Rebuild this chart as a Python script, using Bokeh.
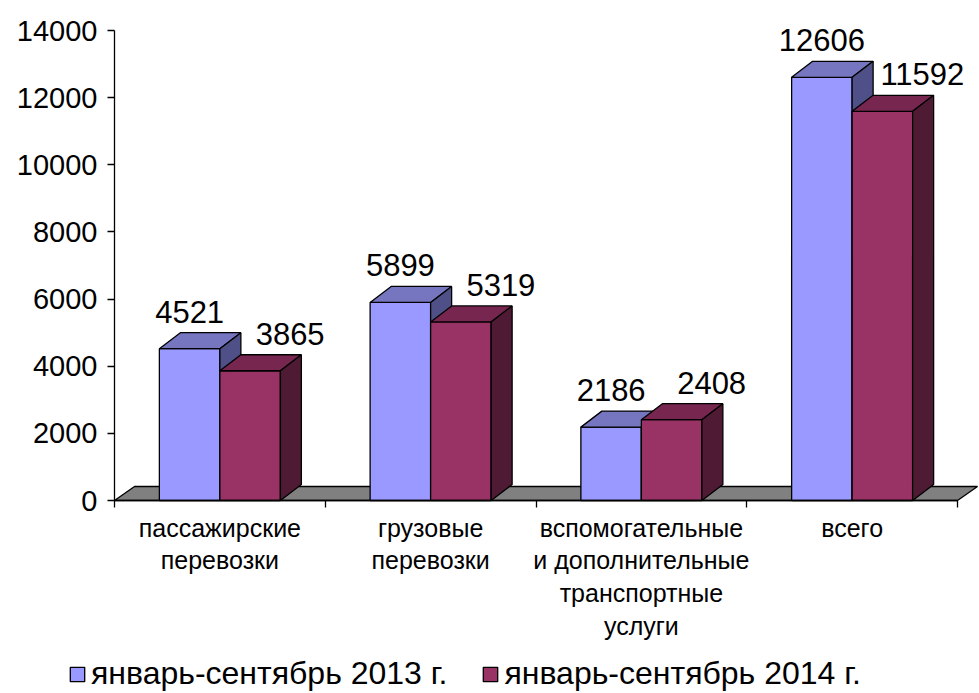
from bokeh.plotting import figure
from bokeh.models import Range1d, LinearAxis, FixedTicker, Legend, LegendItem, ColumnDataSource
from bokeh.core.properties import value
from bokeh.embed import file_html
from bokeh.resources import INLINE

# ---- data ----
categories = [
    "пассажирские\nперевозки",
    "грузовые\nперевозки",
    "вспомогательные\nи дополнительные\nтранспортные\nуслуги",
    "всего",
]
series_names = ["январь-сентябрь 2013 г.", "январь-сентябрь 2014 г."]
values_2013 = [4521, 5899, 2186, 12606]
values_2014 = [3865, 5319, 2408, 11592]
y_ticks = [0, 2000, 4000, 6000, 8000, 10000, 12000, 14000]

# ---- style / layout ----
FONT = "Liberation Sans"
W, H = 978, 692
AXIS_X_PX = 114               # pixel column of the value axis
ZERO_PX = 500                 # pixel row of the zero line
PX_X = 210.75                 # pixels per category
Y_MAX = 14000
PX_Y = 470.0 / Y_MAX          # pixels per unit
x_start = -0.5 - AXIS_X_PX / PX_X
x_end = x_start + W / PX_X
y_end = ZERO_PX / PX_Y
y_start = -(H - ZERO_PX) / PX_Y

BW = 60.5 / PX_X                 # bar width
DX, DY = 21 / PX_X, 16 / PX_Y    # bar depth
FDX, FDY = 20 / PX_X, 14 / PX_Y  # floor depth

colors = {
    0: dict(front="#9999FF", top="#7676C0", side="#505088"),
    1: dict(front="#993366", top="#76264F", side="#4E1A34"),
}
label_dx = {0: 0, 1: 40}

p = figure(width=W, height=H, x_range=Range1d(x_start, x_end), y_range=Range1d(y_start, y_end),
           output_backend="svg", toolbar_location=None,
           x_axis_location=None, y_axis_location=None,
           min_border_left=0, min_border_right=0, min_border_top=0, min_border_bottom=0)
p.outline_line_color = None
p.xgrid.visible = False
p.ygrid.visible = False
p.background_fill_color = "white"
p.border_fill_color = "white"

n = len(categories)
centers = list(range(n))
fx0, fx1 = -0.5, n - 0.5

# y axis, drawn at the left edge of the category area
yaxis = LinearAxis(ticker=FixedTicker(ticks=y_ticks), bounds=(0, Y_MAX), fixed_location=fx0)
yaxis.major_tick_out = 7
yaxis.major_tick_in = 0
yaxis.minor_tick_out = 0
yaxis.minor_tick_in = 0
yaxis.major_label_standoff = 10
yaxis.major_label_text_font = FONT
yaxis.major_label_text_font_size = "29px"
yaxis.major_label_text_color = "black"
yaxis.axis_line_color = "black"
yaxis.axis_line_width = 1.3
yaxis.major_tick_line_color = "black"
yaxis.major_tick_line_width = 1.3
p.add_layout(yaxis, "left")

# x axis: tick marks at category boundaries, drawn at y = 0
xaxis = LinearAxis(ticker=FixedTicker(ticks=[c - 0.5 for c in centers] + [n - 0.5]),
                   bounds=(fx0, fx1), fixed_location=0)
xaxis.major_label_overrides = {c - 0.5: "" for c in centers + [n]}
xaxis.major_label_text_font_size = "1px"
xaxis.major_label_standoff = 0
xaxis.major_tick_out = 7
xaxis.major_tick_in = 0
xaxis.minor_tick_out = 0
xaxis.minor_tick_in = 0
xaxis.major_tick_line_color = "black"
xaxis.major_tick_line_width = 1.3
xaxis.axis_line_color = "black"
xaxis.axis_line_width = 1.3
p.add_layout(xaxis, "below")

# floor
p.patch([fx0, fx1, fx1 + FDX, fx0 + FDX], [0, 0, FDY, FDY],
        fill_color="#808080", line_color="black", line_width=1.3)

front_renderers = []
for s, vals in enumerate([values_2013, values_2014]):
    x0 = [c - BW if s == 0 else c for c in centers]
    front = p.quad(left=x0, right=[a + BW for a in x0], bottom=[0] * n, top=vals,
                   fill_color=colors[s]["front"], line_color="black", line_width=1.3)
    front_renderers.append(front)
    top_xs = [[a, a + BW, a + BW + DX, a + DX] for a in x0]
    top_ys = [[v, v, v + DY, v + DY] for v in vals]
    p.patches(top_xs, top_ys, fill_color=colors[s]["top"], line_color="black", line_width=1.3)
    side_xs = [[a + BW, a + BW + DX, a + BW + DX, a + BW] for a in x0]
    side_ys = [[0, DY, v + DY, v] for v in vals]
    p.patches(side_xs, side_ys, fill_color=colors[s]["side"], line_color="black", line_width=1.3)
    src = ColumnDataSource(dict(x=[a + BW / 2 for a in x0], y=vals, text=[str(v) for v in vals]))
    p.text(x="x", y="y", text="text", source=src, text_font=value(FONT),
           text_font_size=value("31px"), text_color="black", text_align="center",
           text_baseline="alphabetic", x_offset=label_dx[s], y_offset=-37)

# category labels under the floor
cat_src = ColumnDataSource(dict(x=centers, y=[0] * n, text=categories))
p.text(x="x", y="y", text="text", source=cat_src, text_font=value(FONT),
       text_font_size=value("25px"), text_color="black", text_align="center",
       text_baseline="top", text_line_height=1.17, y_offset=13)

legend = Legend(items=[LegendItem(label=series_names[i], renderers=[front_renderers[i]]) for i in range(2)],
                orientation="horizontal", location=(68, 0),
                glyph_width=18, glyph_height=18, label_standoff=5, spacing=34,
                label_text_font=FONT, label_text_font_size="32px", label_text_color="black",
                border_line_color=None, background_fill_alpha=0, padding=0, margin=0)
p.add_layout(legend, "center")

open("out.html", "w").write(file_html(p, INLINE))
